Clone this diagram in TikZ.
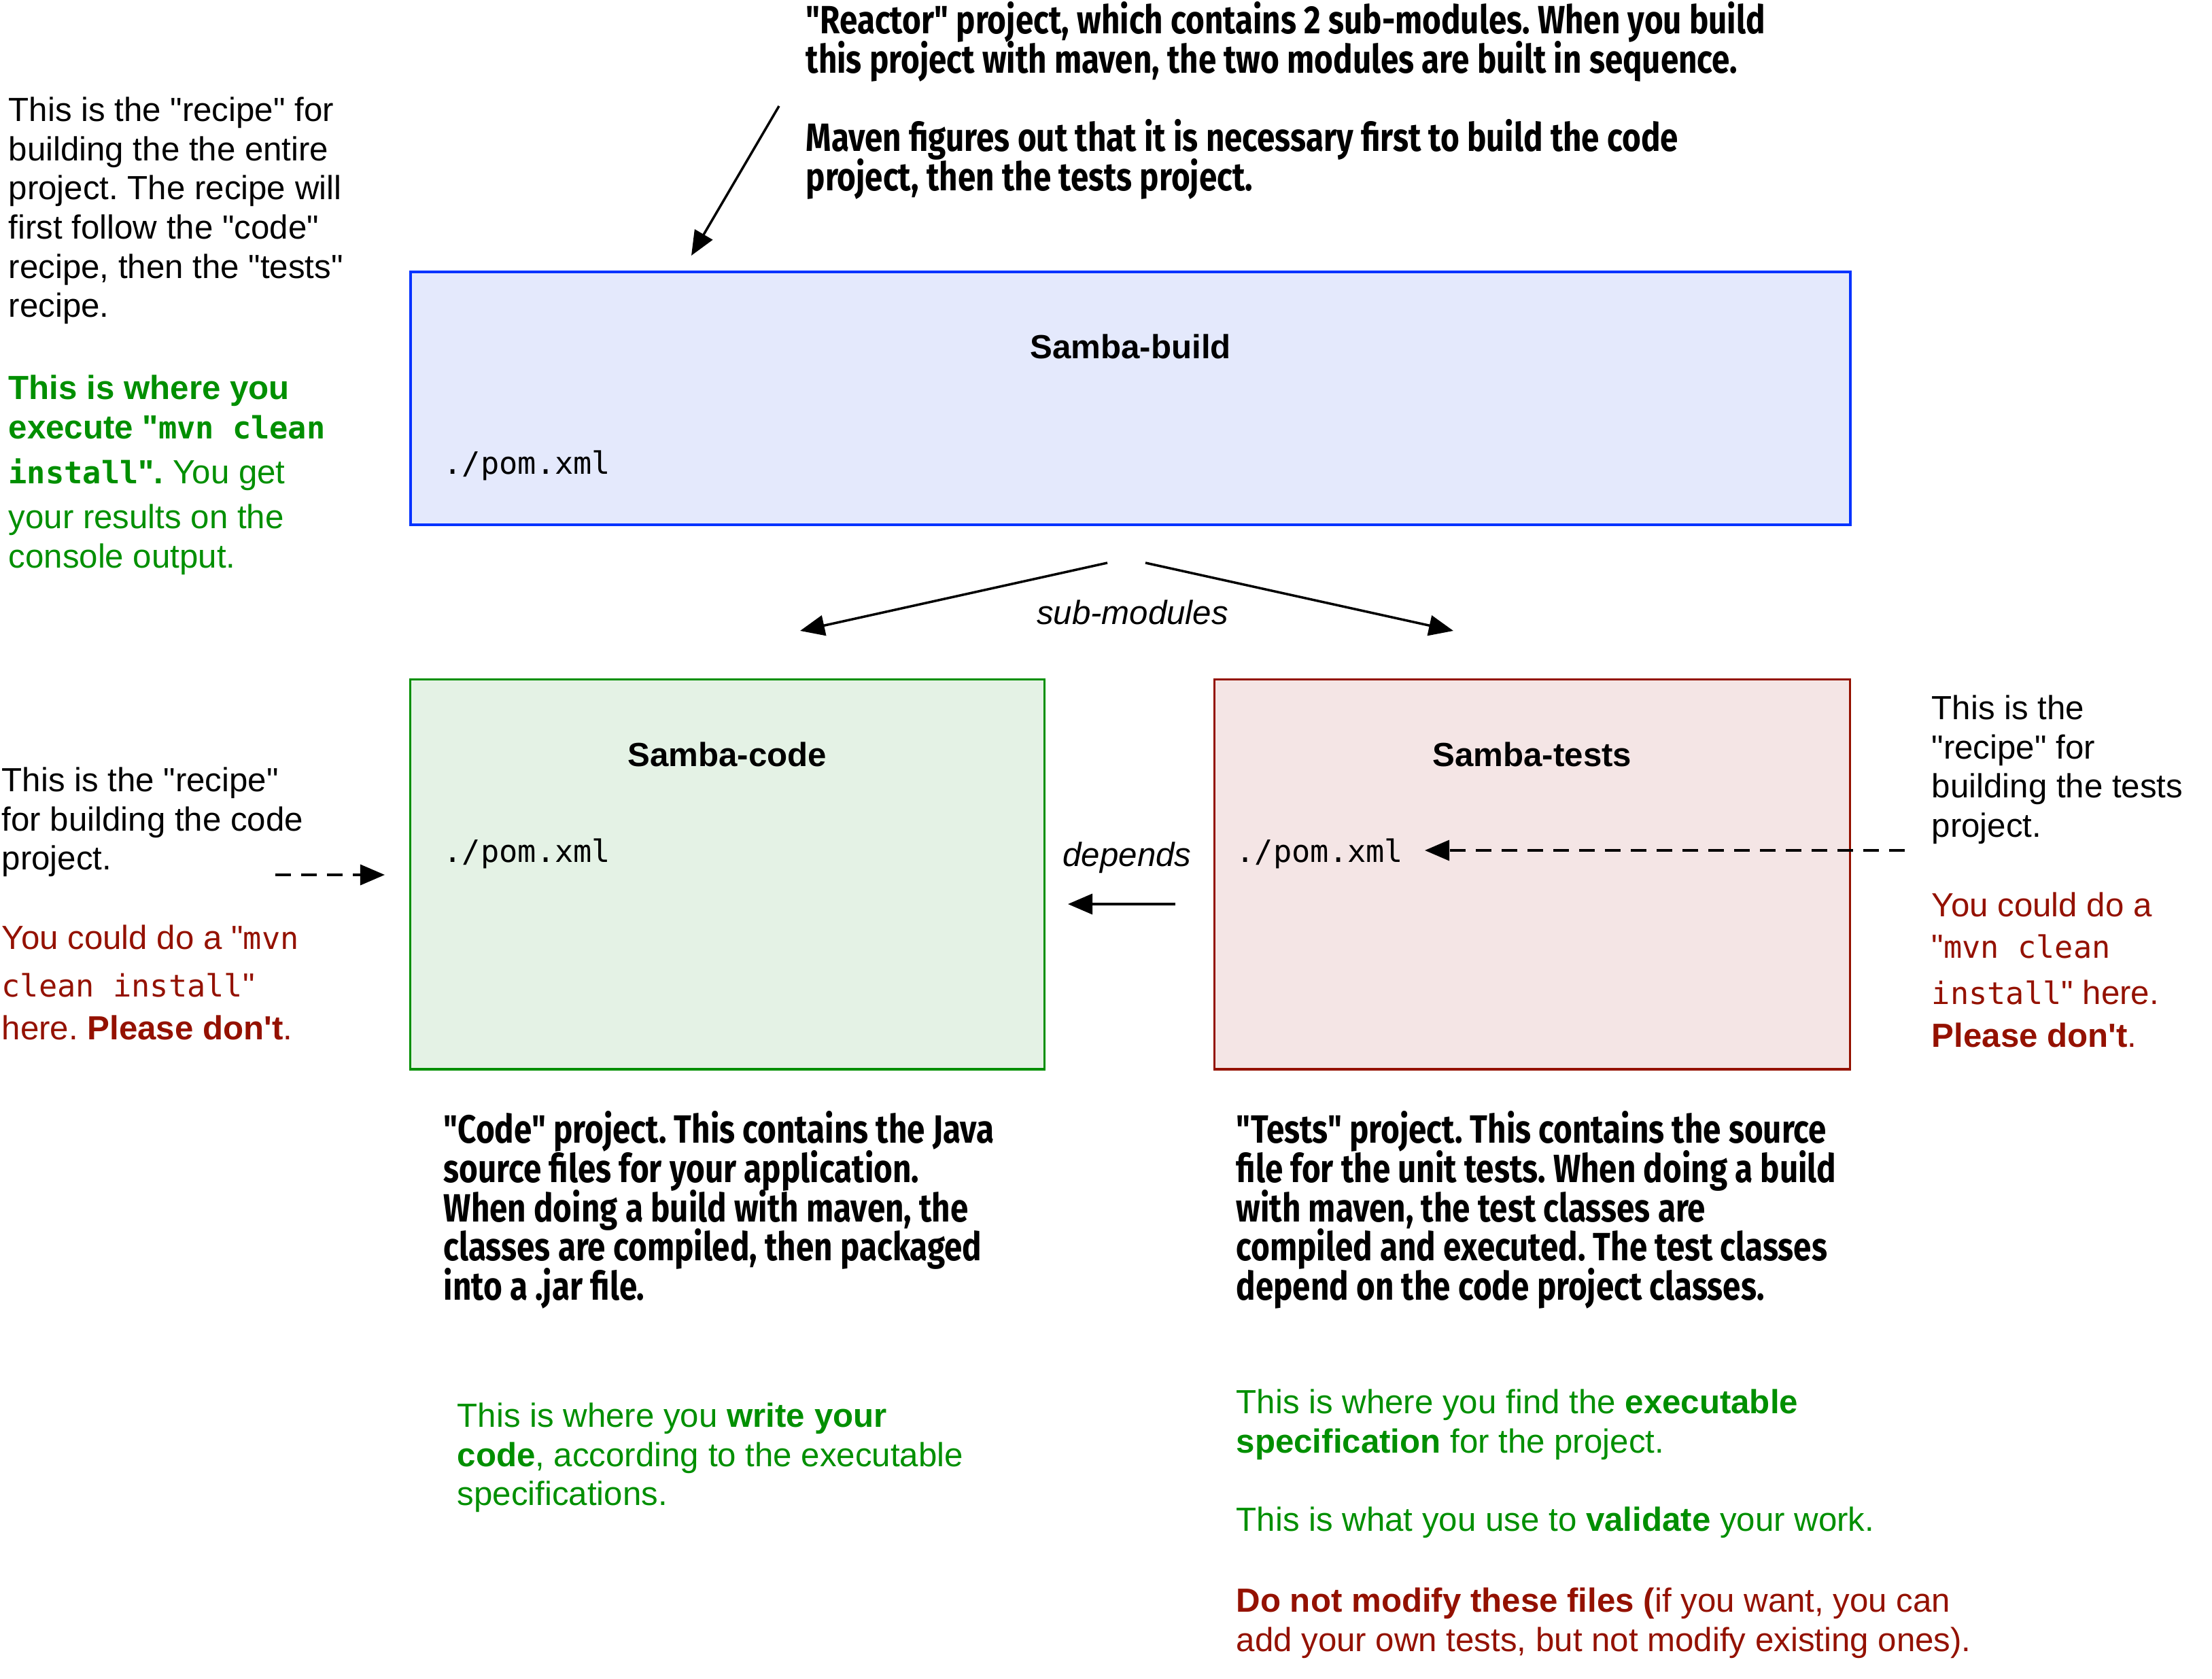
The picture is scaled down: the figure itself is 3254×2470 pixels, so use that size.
\documentclass[tikz,border=0pt]{standalone}
\usepackage{fontspec}
\setmainfont{Liberation Sans}[Ligatures=TeXOff]
\setmonofont{DejaVu Sans Mono}[Scale=0.92]
\newfontfamily\handfont{Fira Sans}[FakeStretch=0.82, Ligatures=TeXOff]
\usetikzlibrary{arrows.meta, positioning}
\frenchspacing

\definecolor{buildblue}{RGB}{4,51,255}
\definecolor{buildfill}{RGB}{228,233,252}
\definecolor{codegreen}{RGB}{0,143,0}
\definecolor{codefill}{RGB}{228,242,229}
\definecolor{testsred}{RGB}{148,17,0}
\definecolor{testsfill}{RGB}{244,229,229}

\begin{document}
\begin{tikzpicture}[
    x=0.01cm, y=-0.01cm,
    module/.style={rectangle, anchor=north west, inner sep=0pt, line width=0.9pt},
    boxtitle/.style={inner sep=0pt, font={\fontsize{14}{16.4}\selectfont\bfseries}},
    pom/.style={anchor=west, inner sep=0pt, font={\fontsize{14}{16.4}\selectfont\ttfamily}},
    note/.style={anchor=north west, inner sep=0pt, align=left, font={\fontsize{14}{16.4}\selectfont}},
    hand/.style={anchor=north west, inner sep=0pt, align=left, font={\fontsize{16.5}{16.4}\selectfont\handfont\bfseries\lineskiplimit=-20pt}},
    edgelabel/.style={inner sep=0pt, font={\fontsize{14}{16.4}\selectfont\itshape}},
    arrow/.style={-{Triangle[length=0.36cm, width=0.3cm]}, line width=1pt},
    dasharrow/.style={arrow, dash pattern=on 0.23cm off 0.15cm}
]
\useasboundingbox (0,0) rectangle (3254,2470);

% ==== Modules ====
\node[module, draw=buildblue, fill=buildfill, line width=1.2pt, minimum width=21.17cm, minimum height=3.72cm] (build) at (602,398) {};
\node[module, draw=codegreen, fill=codefill, minimum width=9.32cm, minimum height=5.73cm] (code) at (602,998) {};
\node[module, draw=testsred, fill=testsfill, minimum width=9.34cm, minimum height=5.73cm] (tests) at (1785,998) {};

\node[boxtitle] (buildtitle) at ([yshift=-1.12cm]build.north) {Samba-build};
\node[boxtitle] (codetitle) at ([yshift=-1.12cm]code.north) {Samba-code};
\node[boxtitle] (teststitle) at ([yshift=-1.12cm]tests.north) {Samba-tests};

\node[pom] (buildpom) at (652,685) {./pom.xml};
\node[pom] (codepom) at (652,1256) {./pom.xml};
\node[pom] (testspom) at (1818,1256) {./pom.xml};

% ==== Handwritten notes ====
\node[hand] (reactornote) at (1185,2) {"Reactor" project, which contains 2 sub-modules. When you build\\this project with maven, the two modules are built in sequence.\\[16.4pt]Maven figures out that it is necessary first to build the code\\project, then the tests project.};
\node[hand] (codeproject) at (652,1634) {"Code" project. This contains the Java\\source files for your application.\\When doing a build with maven, the\\classes are compiled, then packaged\\into a .jar file.};
\node[hand] (testsproject) at (1818,1634) {"Tests" project. This contains the source\\file for the unit tests. When doing a build\\with maven, the test classes are\\compiled and executed. The test classes\\depend on the code project classes.};

% ==== Recipes ====
\node[note] (buildrecipe) at (12,142) {This is the "recipe" for\\building the the entire\\project. The recipe will\\first follow the "code"\\recipe, then the "tests"\\recipe.};
\node[note, text=codegreen] (buildrun) at (12,551) {\textbf{This is where you}\\\textbf{execute "\texttt{mvn clean}}\\[2.5pt]\textbf{\texttt{install}".} You get\\[2.5pt]your results on the\\console output.};

\node[note] (coderecipe) at (2,1128) {This is the "recipe"\\for building the code\\project.};
\node[note, text=testsred] (coderun) at (2,1360) {You could do a "\texttt{mvn}\\[3.5pt]\texttt{clean install}"\\[1.5pt]here. \textbf{Please don't}.};

\node[note] (testsrecipe) at (2841,1022) {This is the\\"recipe" for\\building the tests\\project.};
\node[note, text=testsred] (testsrun) at (2841,1312) {You could do a\\[1pt]"\texttt{mvn clean}\\[3pt]\texttt{install}" here.\\[1.5pt]\textbf{Please don't}.};

% ==== Goals ====
\node[note, text=codegreen] (codegoal) at (672,2063) {This is where you \textbf{write your}\\\textbf{code}, according to the executable\\specifications.};
\node[note, text=codegreen] (testsgoal) at (1818,2043) {This is where you find the \textbf{executable}\\\textbf{specification} for the project.\\[16.4pt]This is what you use to \textbf{validate} your work.};
\node[note, text=testsred] (testswarn) at (1818,2335) {\textbf{Do not modify these files (}if you want, you can\\add your own tests, but not modify existing ones).};

% ==== Relations ====
\coordinate (reactortail) at (1146,156);
\coordinate (reactorhead) at (1017,376);
\draw[arrow] (reactortail) -- (reactorhead);

\coordinate (subtailL) at (1629,828);
\coordinate (subheadL) at (1177,928);
\coordinate (subtailR) at (1685,828);
\coordinate (subheadR) at (2138,928);
\draw[arrow] (subtailL) -- (subheadL);
\draw[arrow] (subtailR) -- (subheadR);
\node[edgelabel] (submodules) at (1666,901) {sub-modules};

\coordinate (deptail) at (1729,1330);
\coordinate (dephead) at (1571,1330);
\draw[arrow] (deptail) -- (dephead);
\node[edgelabel] (depends) at (1658,1262) {depends};

\coordinate (codetail) at (405,1287);
\coordinate (codehead) at (566,1287);
\draw[dasharrow] (codetail) -- (codehead);

\coordinate (teststail) at (2802,1251);
\coordinate (testshead) at (2096,1251);
\draw[dasharrow] (teststail) -- (testshead);

\end{tikzpicture}
\end{document}
